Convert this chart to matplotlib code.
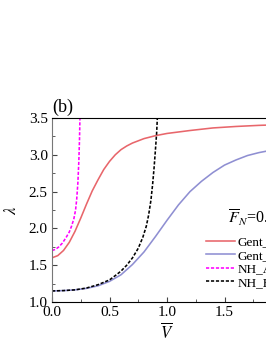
import matplotlib
matplotlib.use('Agg')
import matplotlib.pyplot as plt
from matplotlib.ticker import MultipleLocator

plt.rcParams['font.family'] = ['Liberation Serif', 'DejaVu Serif']
plt.rcParams['mathtext.fontset'] = 'stix'

# values
gent_a_v = [0.0, 0.05, 0.1, 0.15, 0.2, 0.25, 0.3, 0.35, 0.4, 0.45, 0.5, 0.55, 0.6, 0.65,
            0.7, 0.8, 0.9, 1.0, 1.2, 1.4, 1.6, 1.8, 2.0]
gent_a_l = [1.60, 1.63, 1.70, 1.81, 1.96, 2.14, 2.33, 2.51, 2.66, 2.80, 2.91, 3.00, 3.07, 3.12,
            3.16, 3.22, 3.26, 3.29, 3.33, 3.365, 3.385, 3.40, 3.41]

gent_b_v = [0.0, 0.1, 0.2, 0.3, 0.4, 0.5, 0.6, 0.7, 0.8, 0.9, 1.0, 1.1, 1.2, 1.3, 1.4,
            1.5, 1.6, 1.7, 1.8, 1.9, 2.0]
gent_b_l = [1.15, 1.155, 1.165, 1.185, 1.22, 1.28, 1.37, 1.51, 1.68, 1.89, 2.11, 2.32, 2.50,
            2.64, 2.76, 2.86, 2.93, 2.99, 3.03, 3.06, 3.09]

nh_a_v = [0.0, 0.03, 0.06, 0.09, 0.12, 0.15, 0.17, 0.19, 0.205, 0.215, 0.225, 0.233,
          0.239, 0.243]
nh_a_l = [1.70, 1.715, 1.75, 1.80, 1.87, 1.95, 2.03, 2.13, 2.25, 2.40, 2.62, 2.90, 3.2, 3.5]

nh_b_v = [0.0, 0.1, 0.2, 0.3, 0.4, 0.5, 0.56, 0.6, 0.65, 0.7, 0.75, 0.79, 0.82, 0.84,
          0.86, 0.875, 0.888, 0.9, 0.91, 0.916]
nh_b_l = [1.15, 1.155, 1.165, 1.19, 1.235, 1.30, 1.37, 1.42, 1.50, 1.60, 1.73, 1.88, 2.03,
          2.18, 2.38, 2.60, 2.83, 3.08, 3.30, 3.5]

fig = plt.figure(figsize=(2.66, 3.44), dpi=100)
ax = fig.add_axes([52 / 266, 42 / 344, 230 / 266, 184 / 344])

ax.plot(gent_a_v, gent_a_l, color='#e8666b', lw=1.15, label='Gent_A')
ax.plot(gent_b_v, gent_b_l, color='#8f8fd2', lw=1.15, label='Gent_B')
ax.plot(nh_a_v, nh_a_l, color='#ff00ff', lw=1.15, ls=(0, (2.0, 1.1)), label='NH_A')
ax.plot(nh_b_v, nh_b_l, color='black', lw=1.15, ls=(0, (2.0, 1.1)), label='NH_B')

ax.set_xlim(0, 2.0)
ax.set_ylim(1.0, 3.5)
ax.xaxis.set_major_locator(MultipleLocator(0.5))
ax.xaxis.set_minor_locator(MultipleLocator(0.25))
ax.yaxis.set_major_locator(MultipleLocator(0.5))
ax.yaxis.set_minor_locator(MultipleLocator(0.25))
ax.tick_params(which='both', direction='in', labelsize=11, colors='#444', labelcolor='black')
ax.tick_params(which='major', length=3.5, pad=3)
ax.tick_params(which='minor', length=2)
ax.spines['left'].set_color('#777')
ax.spines['right'].set_visible(False)

ax.set_xlabel(r'$\overline{V}$', fontsize=12, labelpad=2)
ax.set_ylabel(r'$\lambda$', fontsize=12, labelpad=6)
ax.text(0.0, 1.01, '(b)', transform=ax.transAxes, fontsize=13, ha='left', va='bottom')

fig.text(228 / 266, 1 - 218 / 344, r'$\overline{F}_N$=0.5', fontsize=11.5, ha='left', va='center')
fig.legend(loc='upper left', bbox_to_anchor=(206 / 266, 1 - 236 / 344), frameon=False,
           fontsize=9.5, handlelength=2.2, handletextpad=0.2, labelspacing=0.1,
           borderaxespad=0, borderpad=0)

fig.savefig('out.png', dpi=100)
